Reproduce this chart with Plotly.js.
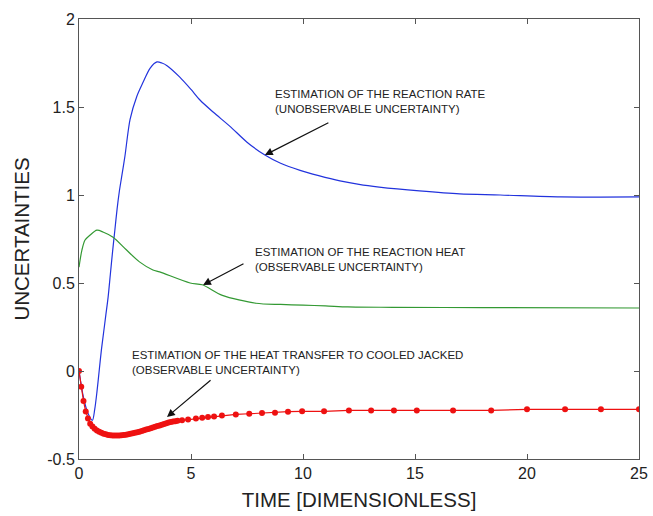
<!DOCTYPE html>
<html>
<head>
<meta charset="utf-8">
<script src="https://cdn.plot.ly/plotly-3.0.1.min.js"></script>
<style>html,body{margin:0;padding:0;background:#fff;}#chart{width:653px;height:516px;}</style>
</head>
<body>
<div id="chart"></div>
<script>
// Reaction rate (unobservable uncertainty)
var rateX = [0, 0.2, 0.4, 0.6, 0.7, 0.8, 0.9, 1.0, 1.1, 1.2, 1.3, 1.4, 1.5, 1.6, 1.7, 1.8, 1.9, 2.05, 2.28, 2.58, 2.86, 3.17, 3.48, 3.7, 3.93, 4.5, 5.0, 5.4, 6.0, 6.74, 7.5, 8.3, 9.0, 9.87, 10.7, 11.65, 12.5, 13.4, 15.2, 17, 18.8, 21.5, 25];
var rateY = [0, -0.15, -0.24, -0.28, -0.22, -0.12, 0.0, 0.12, 0.22, 0.32, 0.42, 0.55, 0.68, 0.80, 0.92, 1.02, 1.10, 1.22, 1.43, 1.56, 1.64, 1.72, 1.756, 1.75, 1.735, 1.67, 1.60, 1.54, 1.47, 1.39, 1.30, 1.227, 1.18, 1.14, 1.11, 1.08, 1.06, 1.045, 1.023, 1.006, 1.0, 0.989, 0.989];

// Reaction heat (observable uncertainty)
var heatX = [0, 0.13, 0.27, 0.5, 0.8, 1.07, 1.52, 2.1, 2.7, 3.3, 3.6, 4.96, 5.5, 6.4, 7.9, 9.0, 10, 11, 12, 14, 18, 25];
var heatY = [0.59, 0.687, 0.744, 0.773, 0.80, 0.79, 0.76, 0.69, 0.62, 0.574, 0.563, 0.50, 0.49, 0.43, 0.385, 0.378, 0.374, 0.37, 0.364, 0.362, 0.36, 0.358];

// Heat transfer to cooled jacket (observable uncertainty)
var jacketX = [0, 0.1, 0.2, 0.3, 0.4, 0.5, 0.6, 0.7, 0.8, 0.9, 1.0, 1.1, 1.2, 1.3, 1.4, 1.5, 1.6, 1.7, 1.8, 1.9, 2.0, 2.1, 2.2, 2.3, 2.4, 2.5, 2.6, 2.7, 2.8, 2.9, 3.0, 3.1, 3.2, 3.3, 3.4, 3.5, 3.6, 3.7, 3.8, 3.9, 4.0, 4.1, 4.2, 4.3, 4.4,
  4.6, 4.87, 5.22, 5.5, 5.76, 6.03, 6.38, 7.0, 7.6, 8.17, 8.75, 9.33, 9.96, 10.94, 12.05, 13.04, 14.06, 15.08, 16.7, 18.4, 20, 21.7, 23.3, 25];
var jacketY = [0.0, -0.09, -0.17, -0.23, -0.27, -0.30, -0.315, -0.328, -0.338, -0.345, -0.351, -0.356, -0.360, -0.363, -0.365, -0.366, -0.367, -0.367, -0.366, -0.365, -0.364, -0.362, -0.360, -0.357, -0.354, -0.351, -0.348, -0.345, -0.341, -0.337, -0.333, -0.329, -0.325, -0.321, -0.317, -0.313, -0.309, -0.305, -0.301, -0.297, -0.293, -0.290, -0.287, -0.285, -0.283,
  -0.280, -0.276, -0.270, -0.266, -0.262, -0.258, -0.253, -0.247, -0.243, -0.238, -0.237, -0.231, -0.229, -0.229, -0.224, -0.224, -0.224, -0.224, -0.224, -0.224, -0.218, -0.218, -0.218, -0.218];

var xTicks = [0, 5, 10, 15, 20, 25];
var yTicks = [-0.5, 0, 0.5, 1, 1.5, 2];
var yTickText = ['-0.5', '0', '0.5', '1', '1.5', '2'];

var labelRate = 'ESTIMATION OF THE REACTION RATE<br>(UNOBSERVABLE UNCERTAINTY)';
var labelHeat = 'ESTIMATION OF THE REACTION HEAT<br>(OBSERVABLE UNCERTAINTY)';
var labelJacket = 'ESTIMATION OF THE HEAT TRANSFER TO COOLED JACKED<br>(OBSERVABLE UNCERTAINTY)';

var traces = [
  {x: rateX, y: rateY, type: 'scatter', mode: 'lines', line: {color: '#2233dd', width: 1.2, shape: 'spline', smoothing: 0.8}, hoverinfo: 'skip'},
  {x: heatX, y: heatY, type: 'scatter', mode: 'lines', line: {color: '#339933', width: 1.2, shape: 'spline', smoothing: 0.8}, hoverinfo: 'skip'},
  {x: jacketX, y: jacketY, type: 'scatter', mode: 'lines+markers', line: {color: '#ee1111', width: 1.2}, marker: {color: '#ee1111', size: 6}, hoverinfo: 'skip'}
];

var font = 'Liberation Sans, Arial, Helvetica, sans-serif';
var annFont = {family: font, size: 11.5, color: '#222'};
function arrow(x, y, ax, ay) {
  return {x: x, y: y, ax: ax, ay: ay, xref: 'x', yref: 'y', axref: 'x', ayref: 'y', text: '', showarrow: true, arrowhead: 2, arrowsize: 1.3, arrowwidth: 1.2, arrowcolor: '#111'};
}
function label(x, y, txt) {
  return {x: x, y: y, xref: 'x', yref: 'y', text: txt, showarrow: false, xanchor: 'left', yanchor: 'middle', align: 'left', font: annFont};
}

var layout = {
  width: 653, height: 516,
  margin: {l: 79, r: 14, t: 19, b: 57},
  paper_bgcolor: '#fff', plot_bgcolor: '#fff',
  showlegend: false,
  font: {family: font, color: '#222'},
  xaxis: {
    range: [0, 25], tickvals: xTicks, ticktext: xTicks.map(String),
    ticks: 'inside', ticklen: 5, tickcolor: '#555', showgrid: false, zeroline: false,
    showline: true, linecolor: '#555', linewidth: 1, mirror: 'ticks',
    tickfont: {family: font, size: 16, color: '#222'},
    title: {text: 'TIME [DIMENSIONLESS]', font: {family: font, size: 20.5, color: '#222'}, standoff: 11}
  },
  yaxis: {
    range: [-0.5, 2], tickvals: yTicks, ticktext: yTickText,
    ticks: 'inside', ticklen: 5, tickcolor: '#555', showgrid: false, zeroline: false,
    showline: true, linecolor: '#555', linewidth: 1, mirror: 'ticks',
    tickfont: {family: font, size: 16, color: '#222'},
    title: {text: 'UNCERTAINTIES', font: {family: font, size: 20.5, color: '#222'}, standoff: 12}
  },
  annotations: [
    arrow(8.3, 1.227, 11.2, 1.415),
    arrow(5.54, 0.489, 7.41, 0.614),
    arrow(3.93, -0.261, 5.94, -0.045),
    label(8.66, 1.534, labelRate),
    label(7.77, 0.631, labelHeat),
    label(2.28, 0.051, labelJacket)
  ]
};

Plotly.newPlot('chart', traces, layout, {displayModeBar: false, staticPlot: true});
</script>
</body>
</html>
